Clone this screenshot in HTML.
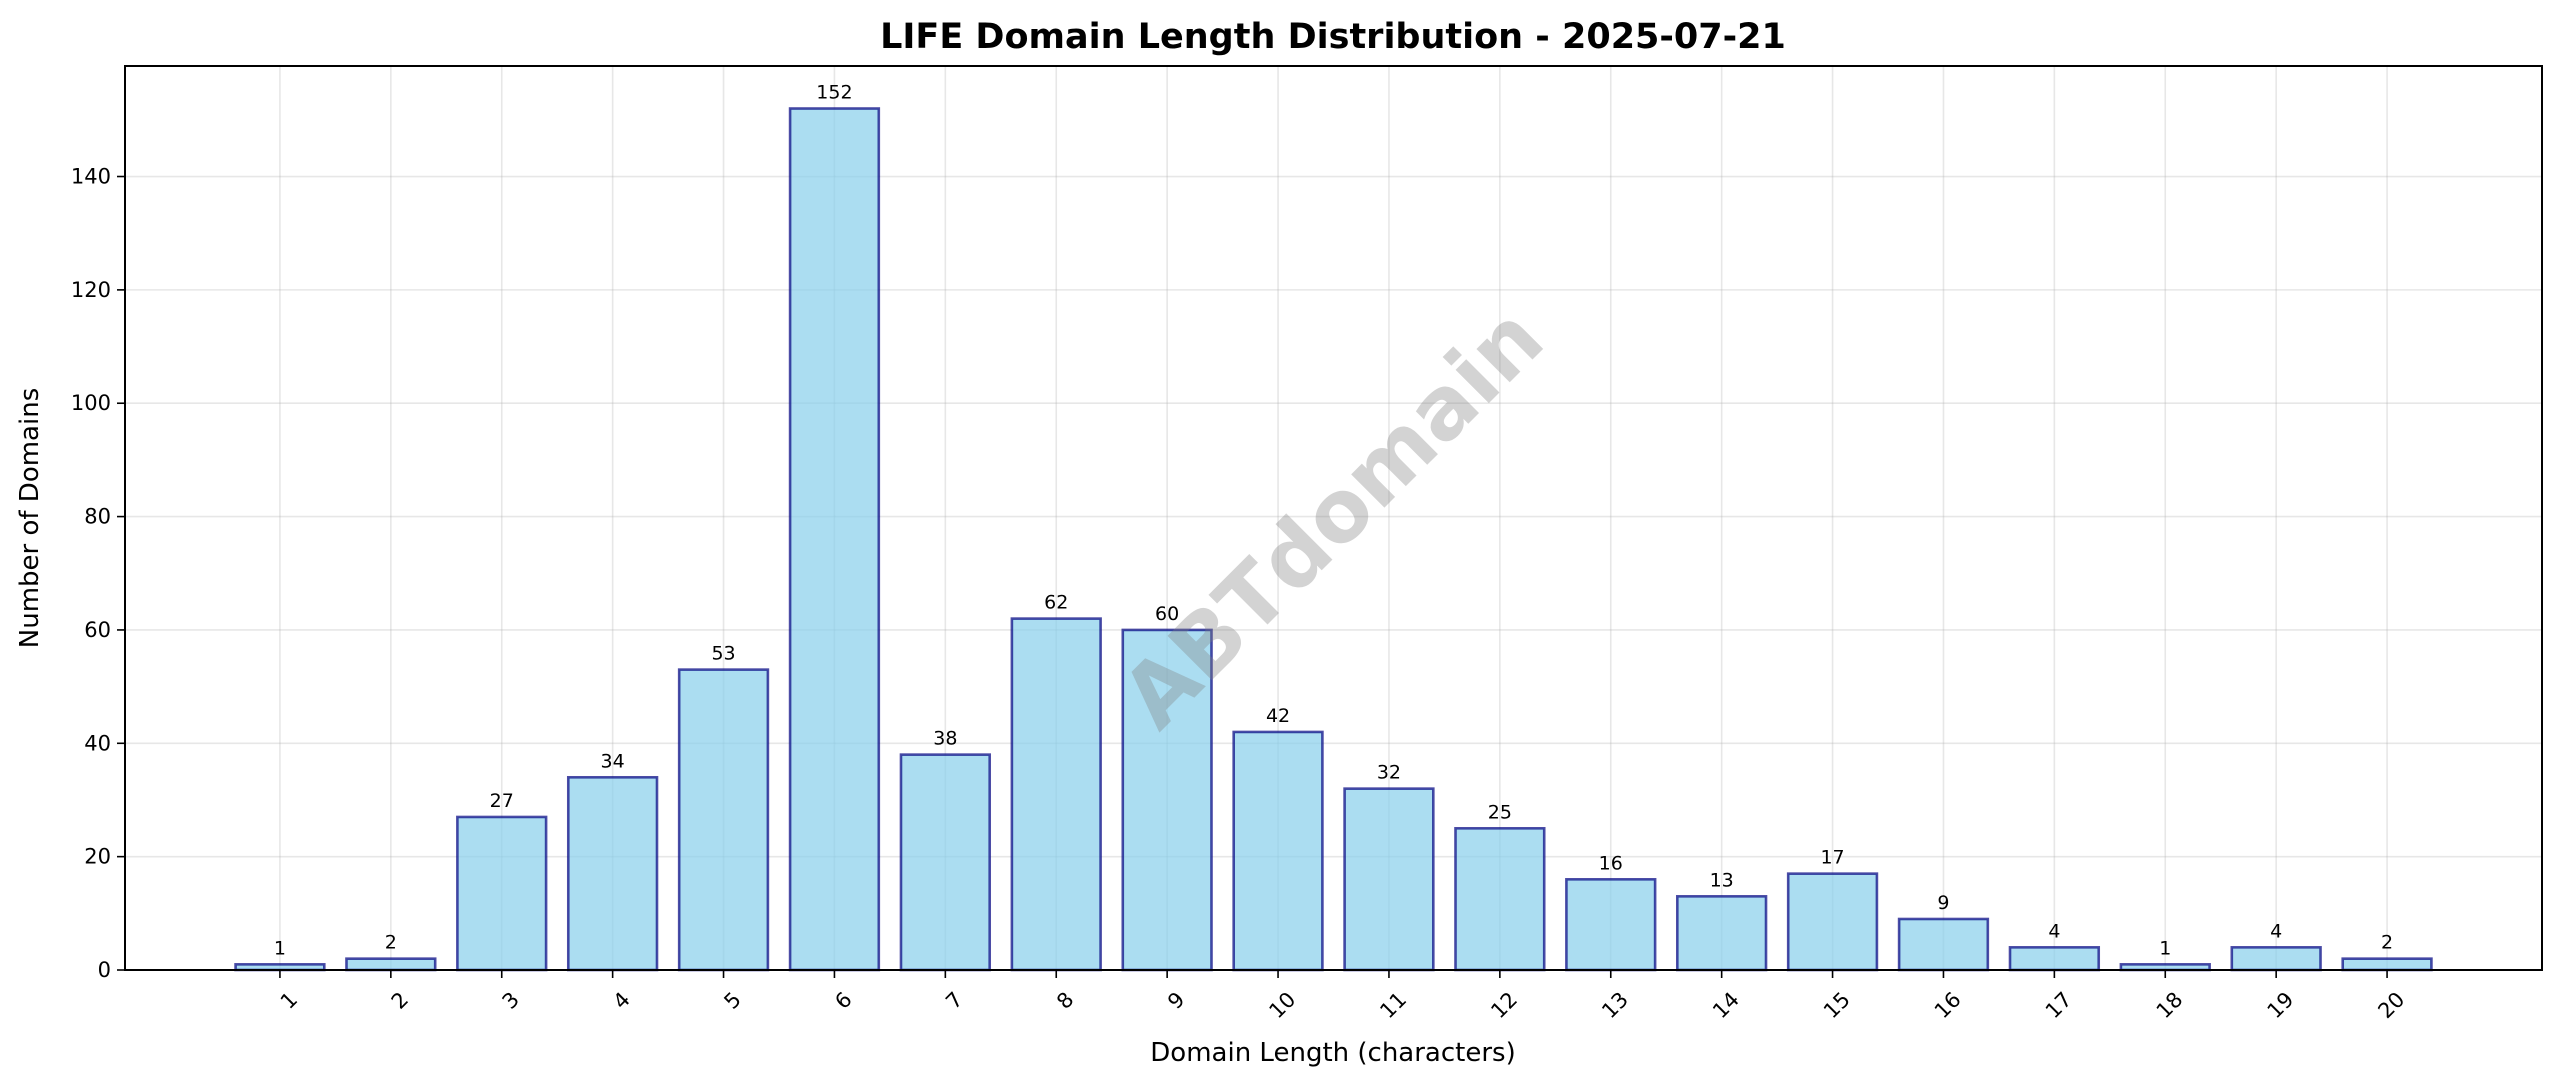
<!DOCTYPE html>
<html><head><meta charset="utf-8">
<style>
html,body{margin:0;padding:0;background:#fff;}
svg{display:block;font-family:"DejaVu Sans","Liberation Sans",sans-serif;}
</style></head>
<body>
<svg id="chart" width="2560" height="1087" viewBox="0 0 2560 1087" xmlns="http://www.w3.org/2000/svg">
<rect width="2560" height="1087" fill="#fff"/>
<text x="1333" y="48" text-anchor="middle" font-size="35" font-weight="bold">LIFE Domain Length Distribution - 2025-07-21</text>
<text transform="translate(38,518) rotate(-90)" text-anchor="middle" font-size="26">Number of Domains</text>
<text x="1333" y="1061" text-anchor="middle" font-size="26">Domain Length (characters)</text>
<g id="grid"></g>
<g id="bars"></g>
<text transform="translate(1333,518) rotate(-45)" text-anchor="middle" dominant-baseline="central" font-size="86" font-weight="bold" fill="#808080" fill-opacity="0.35">ABTdomain</text>
<g id="axes"></g>
</svg>
<script>
const categories = [1,2,3,4,5,6,7,8,9,10,11,12,13,14,15,16,17,18,19,20];
const counts = [1,2,27,34,53,152,38,62,60,42,32,25,16,13,17,9,4,1,4,2];
const yTicks = [0,20,40,60,80,100,120,140];

const L=125,R=2542,T=66,B=970;
const xMin=-0.397,xMax=21.397,yMax=159.5;
const NS="http://www.w3.org/2000/svg";
function xs(v){return L+(v-xMin)/(xMax-xMin)*(R-L);}
function ys(v){return B-v/yMax*(B-T);}
function mk(tag,attrs,parent){const e=document.createElementNS(NS,tag);for(const k in attrs)e.setAttribute(k,attrs[k]);parent.appendChild(e);return e;}
const grid=document.getElementById('grid'),bars=document.getElementById('bars'),axes=document.getElementById('axes');
const bw=0.8*(xs(1)-xs(0));
yTicks.forEach(t=>{
  const y=ys(t);
  const g=mk('line',{x1:L,x2:R,y1:y,y2:y,stroke:'#b0b0b0','stroke-opacity':0.3,'stroke-width':1.6},grid);
  
  
  const tk=mk('line',{x1:L-8,x2:L,y1:y,y2:y,stroke:'#000','stroke-width':1.6},axes);
  
  
  const lb=mk('text',{x:L-14,y:y+7,'text-anchor':'end','font-size':21},axes);
  lb.textContent=t;
  
  
});
categories.forEach((c,i)=>{
  const x=xs(c);
  const g=mk('line',{x1:x,x2:x,y1:T,y2:B,stroke:'#b0b0b0','stroke-opacity':0.3,'stroke-width':1.6},grid);
  
  
  const v=counts[i];
  const r=mk('rect',{x:x-bw/2,y:ys(v),width:bw,height:B-ys(v),fill:'#87ceeb','fill-opacity':0.7,stroke:'#000080','stroke-opacity':0.7,'stroke-width':2.6},bars);
  
  
  const vl=mk('text',{x:x,y:ys(v)-10,'text-anchor':'middle','font-size':19},bars);
  vl.textContent=v;
  
  
  const tk=mk('line',{x1:x,x2:x,y1:B,y2:B+8,stroke:'#000','stroke-width':1.6},axes);
  
  
  const lb=mk('text',{transform:`translate(${x+8},${B+20}) rotate(-45)`,'text-anchor':'end','dominant-baseline':'hanging','font-size':21},axes);
  lb.textContent=c;
  
  
});
const fr=mk('rect',{x:L,y:T,width:R-L,height:B-T,fill:'none',stroke:'#000','stroke-width':2},axes);


</script>
</body></html>
